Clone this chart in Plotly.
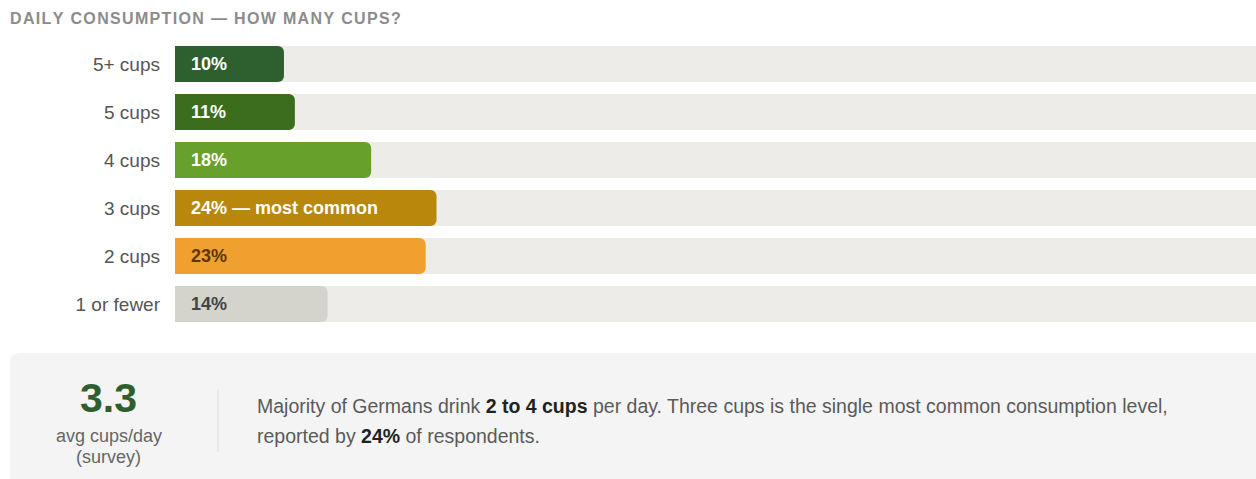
import plotly.graph_objects as go

# ---- data ----
categories = ["5+ cups", "5 cups", "4 cups", "3 cups", "2 cups", "1 or fewer"]
shares = [10, 11, 18, 24, 23, 14]
label_notes = ["", "", "", " — most common", "", ""]
track_values = [100, 100, 100, 100, 100, 100]
avg_cups = "3.3"
title_text = "DAILY CONSUMPTION — HOW MANY CUPS?"

# ---- styles ----
bar_colors = ["#2e5f2f", "#3b6d1d", "#67a02a", "#b8870b", "#f0a02e", "#d4d3cc"]
label_colors = ["#ffffff", "#ffffff", "#ffffff", "#ffffff", "#5e3608", "#444444"]
track_color = "#edece8"
FONT = "Liberation Sans, Arial, sans-serif"

W, H = 1256, 479
L, R, T, B = 175, 0, 40, 151
PW, PH = W - L - R, H - T - B


def px(x):
    return (x - L) / PW


def py(y):
    return (T + PH - y) / PH


fig = go.Figure()
fig.add_trace(go.Bar(
    y=categories, x=track_values, orientation="h",
    marker=dict(color=track_color, line=dict(width=0)),
    hoverinfo="skip", showlegend=False,
))
fig.add_trace(go.Bar(
    y=categories, x=shares, orientation="h", yaxis="y2",
    marker=dict(color=bar_colors, line=dict(width=0), cornerradius=6),
    showlegend=False,
))

annotations = []
for cat, v, note, c in zip(categories, shares, label_notes, label_colors):
    annotations.append(dict(
        x=0, y=cat, xref="x", yref="y2", text=f"<b>{v}%{note}</b>",
        showarrow=False, xanchor="left", yanchor="middle", xshift=14,
        font=dict(family=FONT, size=18, color=c),
    ))

# title
spaced_title = "\u200a".join(title_text)
annotations.append(dict(
    x=px(8), y=py(19), xref="paper", yref="paper", text=f"<b>{spaced_title}</b>",
    showarrow=False, xanchor="left", yanchor="middle",
    font=dict(family=FONT, size=16, color="#8c8c8c"),
))

# summary panel
annotations += [
    dict(x=px(108.5), y=py(398), xref="paper", yref="paper", text=f"<b>{avg_cups}</b>",
         showarrow=False, xanchor="center", yanchor="middle",
         font=dict(family=FONT, size=41, color="#2e5f2f")),
    dict(x=px(108.5), y=py(436), xref="paper", yref="paper", text="avg cups/day",
         showarrow=False, xanchor="center", yanchor="middle",
         font=dict(family=FONT, size=18, color="#666666")),
    dict(x=px(108.5), y=py(457), xref="paper", yref="paper", text="(survey)",
         showarrow=False, xanchor="center", yanchor="middle",
         font=dict(family=FONT, size=18, color="#666666")),
    dict(x=px(255), y=py(406), xref="paper", yref="paper",
         text="Majority of Germans drink <b><span style='color:#222222'>2 to 4 cups</span></b> per day. "
              "Three cups is the single most common consumption level,",
         showarrow=False, xanchor="left", yanchor="middle",
         font=dict(family=FONT, size=19.5, color="#5a5a5a")),
    dict(x=px(255), y=py(436), xref="paper", yref="paper",
         text="reported by <b><span style='color:#222222'>24%</span></b> of respondents.",
         showarrow=False, xanchor="left", yanchor="middle",
         font=dict(family=FONT, size=19.5, color="#5a5a5a")),
]


def rounded_box(x0, y0, x1, y1, r):
    pts = [
        f"M {px(x0 + r)} {py(y0)}",
        f"L {px(x1)} {py(y0)}",
        f"L {px(x1)} {py(y1)}",
        f"L {px(x0)} {py(y1)}",
        f"L {px(x0)} {py(y0 + r)}",
        f"Q {px(x0)} {py(y0)} {px(x0 + r)} {py(y0)}",
        "Z",
    ]
    return " ".join(pts)


shapes = [
    dict(type="path", xref="paper", yref="paper", path=rounded_box(10, 353, 1270, 495, 10),
         fillcolor="#f4f4f4", line=dict(width=0), layer="below"),
    dict(type="line", xref="paper", yref="paper", x0=px(218), x1=px(218), y0=py(390), y1=py(452),
         line=dict(color="#dddddd", width=1)),
]

yax = dict(categoryorder="array", categoryarray=categories, autorange="reversed",
           showgrid=False, zeroline=False, showline=False, ticks="", fixedrange=True)

fig.update_layout(
    width=W, height=H,
    margin=dict(l=L, r=R, t=T, b=B, pad=0),
    paper_bgcolor="white", plot_bgcolor="white",
    bargap=0.25,
    xaxis=dict(range=[0, 99.2], visible=False, fixedrange=True),
    yaxis=dict(**yax, ticklabelstandoff=14,
               tickfont=dict(family=FONT, size=19, color="#555555")),
    yaxis2=dict(**yax, overlaying="y", showticklabels=False),
    annotations=annotations, shapes=shapes,
    font=dict(family=FONT),
)

fig.write_html("out.html", config={"displayModeBar": False},
               post_script="document.body.style.margin='0';")
